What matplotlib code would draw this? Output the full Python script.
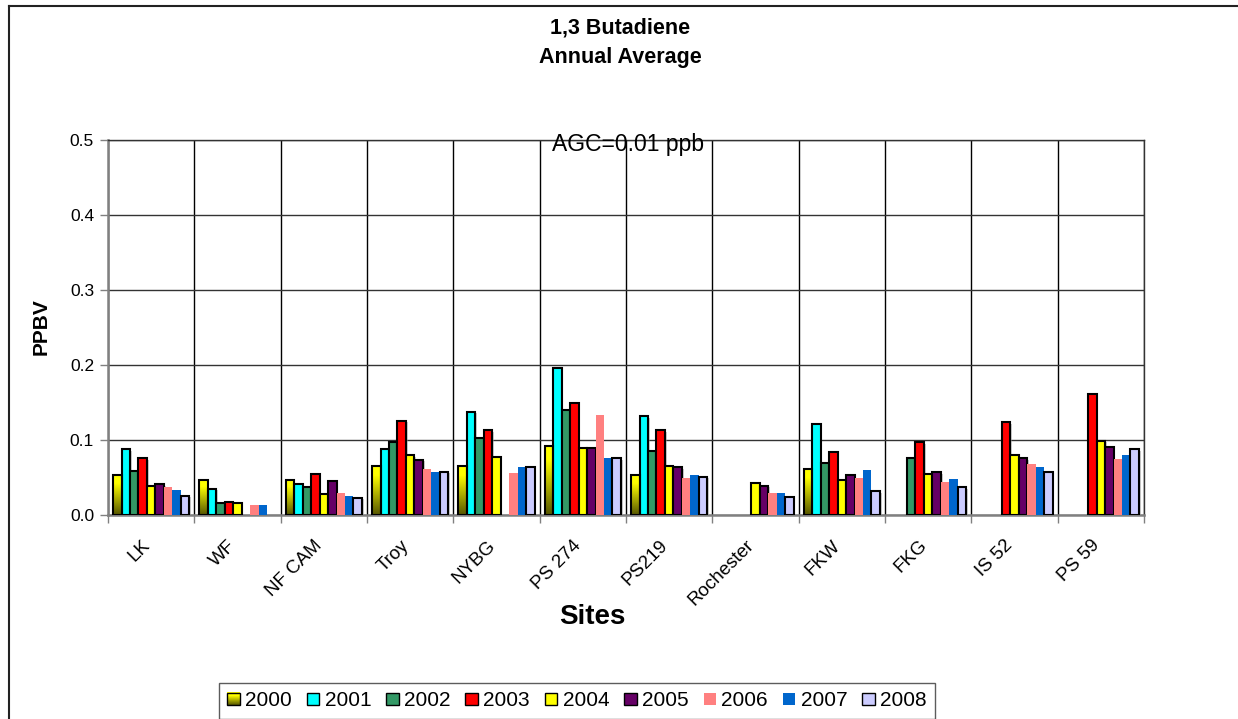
import numpy as np
import matplotlib
matplotlib.use('Agg')
import matplotlib.pyplot as plt
import matplotlib.patheffects as pe
from matplotlib.patches import Rectangle
from matplotlib.lines import Line2D
from matplotlib.colors import LinearSegmentedColormap
from matplotlib.legend_handler import HandlerBase
from matplotlib.transforms import ScaledTranslation

plt.rcParams['font.family'] = ['Liberation Sans', 'DejaVu Sans']

nan = np.nan
sites = ['LK', 'WF', 'NF CAM', 'Troy', 'NYBG', 'PS 274', 'PS219', 'Rochester',
         'FKW', 'FKG', 'IS 52', 'PS 59']
years = ['2000', '2001', '2002', '2003', '2004', '2005', '2006', '2007', '2008']

y2000 = [0.053, 0.047, 0.047, 0.066, 0.066, 0.092, 0.053, nan, 0.062, nan, nan, nan]
y2001 = [0.088, 0.035, 0.041, 0.088, 0.138, 0.196, 0.132, nan, 0.122, nan, nan, nan]
y2002 = [0.059, 0.016, 0.037, 0.097, 0.103, 0.140, 0.086, nan, 0.070, 0.076, nan, nan]
y2003 = [0.076, 0.018, 0.055, 0.126, 0.113, 0.150, 0.113, nan, 0.084, 0.097, 0.124, 0.161]
y2004 = [0.039, 0.016, 0.028, 0.080, 0.078, 0.089, 0.066, 0.043, 0.047, 0.055, 0.080, 0.099]
y2005 = [0.041, nan, 0.045, 0.074, nan, 0.090, 0.064, 0.039, 0.053, 0.057, 0.076, 0.091]
y2006 = [0.037, 0.014, 0.029, 0.061, 0.056, 0.134, 0.050, 0.029, 0.050, 0.044, 0.068, 0.075]
y2007 = [0.034, 0.014, 0.026, 0.057, 0.064, 0.076, 0.053, 0.029, 0.060, 0.048, 0.064, 0.080]
y2008 = [0.026, nan, 0.023, 0.058, 0.064, 0.076, 0.051, 0.024, 0.032, 0.037, 0.057, 0.088]

series = [y2000, y2001, y2002, y2003, y2004, y2005, y2006, y2007, y2008]
colors = ['#ffff00', '#00ffff', '#339966', '#ff0000', '#ffff00', '#660066',
          '#ff8080', '#0066cc', '#ccccff']
edged = [True, True, True, True, True, True, False, False, True]

grad_cmap = LinearSegmentedColormap.from_list(
    'olive_yellow', [(0.0, '#555500'), (0.8, '#ffff00'), (1.0, '#ffff00')])

W, H = 1238, 719
fig = plt.figure(figsize=(W / 100, H / 100), dpi=100)
ax = fig.add_axes([108 / W, 1 - 515 / H, (1144 - 108) / W, (515 - 140) / H])

shadow = [pe.SimplePatchShadow(offset=(1.2, -1.2), shadow_rgbFace='#999999', alpha=0.5),
          pe.Normal()]

n = len(sites)
idx = np.arange(n)
bw = 0.098
for j, (vals, col, ed) in enumerate(zip(series, colors, edged)):
    xs = idx + 0.5 + (j - 4) * bw
    v = np.array(vals, dtype=float)
    if j == 0:
        bars = ax.bar(xs, v, width=bw, facecolor='none', edgecolor='black',
                      linewidth=1.5, zorder=4)
        for r in bars:
            h = r.get_height()
            if not np.isfinite(h) or h <= 0:
                continue
            x0 = r.get_x()
            ax.imshow(np.linspace(0, 1, 256).reshape(-1, 1), cmap=grad_cmap,
                      origin='lower', aspect='auto',
                      extent=(x0, x0 + r.get_width(), 0, h), zorder=3)
    else:
        bars = ax.bar(xs, v, width=bw, color=col,
                      edgecolor='black' if ed else 'none',
                      linewidth=1.5 if ed else 0, zorder=3)
        if ed:
            for r in bars:
                r.set_path_effects(shadow)

ax.set_xlim(0, n)
ax.set_ylim(0, 0.5)

# grid
ax.set_yticks(np.arange(0, 0.51, 0.1))
ax.set_yticklabels(['%.1f' % t for t in np.arange(0, 0.51, 0.1)])
ax.set_xticks(np.arange(0, n + 1))
ax.set_xticklabels([])
ax.grid(axis='y', color='#333333', linewidth=1.0, zorder=1)
ax.grid(axis='x', color='#000000', linewidth=1.0, zorder=1)
ax.set_axisbelow(True)

for s in ['top', 'right']:
    ax.spines[s].set_visible(True)
    ax.spines[s].set_color('#333333')
    ax.spines[s].set_linewidth(1.0)
for s in ['left', 'bottom']:
    ax.spines[s].set_color('#808080')
    ax.spines[s].set_linewidth(1.8)

ax.tick_params(axis='y', direction='out', length=6, width=1, color='#808080',
               labelsize=12.5, pad=4)
ax.tick_params(axis='x', direction='out', length=6, width=1, color='#808080')

# category labels
off = ScaledTranslation(-4 / 100, -28 / 100, fig.dpi_scale_trans)
for i, s in enumerate(sites):
    ax.text(i + 0.5, 0, s, transform=ax.get_xaxis_transform() + off,
            rotation=45, rotation_mode='anchor', ha='right', va='center',
            fontsize=13.5)

# titles and labels
fig.text(620 / W, 1 - 28 / H, '1,3 Butadiene', ha='center', va='center',
         fontsize=15.5, fontweight='bold')
fig.text(620 / W, 1 - 57 / H, 'Annual Average', ha='center', va='center',
         fontsize=15.5, fontweight='bold')
fig.text(628 / W, 1 - 144 / H, 'AGC=0.01 ppb', ha='center', va='center',
         fontsize=16.5)
fig.text(592 / W, 1 - 617 / H, 'Sites', ha='center', va='center',
         fontsize=20, fontweight='bold')
fig.text(41 / W, 1 - 327 / H, 'PPBV', ha='center', va='center', rotation=90,
         fontsize=15, fontweight='bold')

# figure border
fig.add_artist(Line2D([8.5 / W, 8.5 / W], [0, 1 - 6 / H], transform=fig.transFigure,
                      color='#222222', linewidth=1.5))
fig.add_artist(Line2D([8.5 / W, 1], [1 - 6 / H, 1 - 6 / H], transform=fig.transFigure,
                      color='#222222', linewidth=1.5))


# legend
class SwatchHandler(HandlerBase):
    def __init__(self, color, edge, gradient=False):
        super().__init__()
        self.color = color
        self.edge = edge
        self.gradient = gradient

    def create_artists(self, legend, orig_handle, xdescent, ydescent, width,
                       height, fontsize, trans):
        size = min(width, height)
        x0 = -xdescent + (width - size) / 2
        y0 = -ydescent + (height - size) / 2
        arts = []
        if self.gradient:
            nst = 12
            for k in range(nst):
                c = grad_cmap((k + 0.5) / nst)
                arts.append(Rectangle((x0, y0 + k * size / nst), size, size / nst + 0.3,
                                      facecolor=c, edgecolor='none', transform=trans))
            arts.append(Rectangle((x0, y0), size, size, facecolor='none',
                                  edgecolor='black', linewidth=1.0, transform=trans))
        else:
            arts.append(Rectangle((x0, y0), size, size, facecolor=self.color,
                                  edgecolor='black' if self.edge else 'none',
                                  linewidth=1.0, transform=trans))
        return arts


handles = []
hmap = {}
for j, (yr, col, ed) in enumerate(zip(years, colors, edged)):
    h = Rectangle((0, 0), 1, 1, label=yr)
    handles.append(h)
    hmap[h] = SwatchHandler(col, ed, gradient=(j == 0))

leg = fig.legend(handles=handles, labels=years, handler_map=hmap, ncol=9,
                 loc='upper center', bbox_to_anchor=(577 / W, 1 - 683 / H),
                 fontsize=15, frameon=True, fancybox=False, shadow=False,
                 edgecolor='#333333', handlelength=0.6, handleheight=0.6,
                 handletextpad=0.25, columnspacing=0.72, borderpad=0.4,
                 borderaxespad=0)
leg.get_frame().set_linewidth(1.0)

fig.savefig('out.png', dpi=100)
